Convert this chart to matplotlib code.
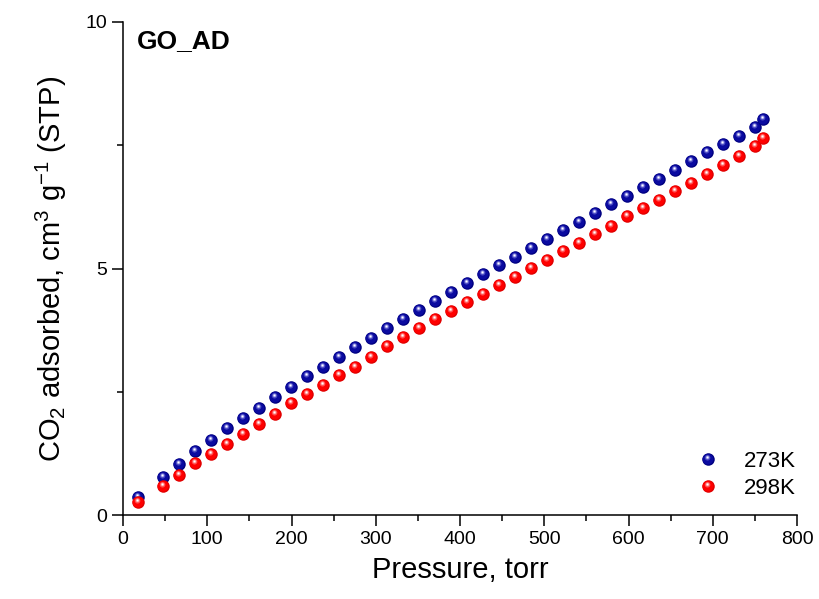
import numpy as np
import matplotlib
matplotlib.use('Agg')
import matplotlib.pyplot as plt
from matplotlib.path import Path
from matplotlib.lines import Line2D
from matplotlib.legend_handler import HandlerTuple
from matplotlib.ticker import MultipleLocator

plt.rcParams['font.family'] = ['Liberation Sans', 'DejaVu Sans']
plt.rcParams['mathtext.fontset'] = 'custom'
plt.rcParams['mathtext.rm'] = 'Liberation Sans'
plt.rcParams['mathtext.it'] = 'Liberation Sans:italic'

# pressure points (torr), same for both isotherms
pressure = [18, 47, 66, 85, 104, 123, 142, 161, 180, 199,
            218, 237, 256, 275, 294, 313, 332, 351, 370, 389,
            408, 427, 446, 465, 484, 503, 522, 541, 560, 579,
            598, 617, 636, 655, 674, 693, 712, 731, 750, 760]

# CO2 uptake, cm3/g STP
uptake_273 = [0.36, 0.78, 1.04, 1.29, 1.53, 1.76, 1.97, 2.18, 2.39, 2.60,
              2.81, 3.00, 3.20, 3.41, 3.60, 3.79, 3.98, 4.16, 4.34, 4.53,
              4.71, 4.89, 5.07, 5.24, 5.42, 5.60, 5.78, 5.95, 6.12, 6.30,
              6.47, 6.65, 6.82, 7.00, 7.18, 7.36, 7.53, 7.69, 7.86, 8.03]
uptake_298 = [0.26, 0.59, 0.82, 1.05, 1.24, 1.45, 1.65, 1.84, 2.04, 2.28,
              2.46, 2.64, 2.83, 3.01, 3.21, 3.42, 3.62, 3.80, 3.97, 4.14,
              4.33, 4.48, 4.66, 4.83, 5.01, 5.18, 5.36, 5.52, 5.70, 5.87,
              6.07, 6.22, 6.39, 6.57, 6.73, 6.92, 7.10, 7.28, 7.48, 7.64]

labels = ['273K', '298K']


def spot(cx, cy, r):
    # circle marker offset from the marker centre; the two dummy
    # movetos pin the marker scale so unit 1 == base marker radius
    c = Path.circle((cx, cy), r)
    verts = np.vstack([[[-1, -1], [1, 1]], c.vertices])
    codes = np.concatenate([[Path.MOVETO, Path.MOVETO], c.codes])
    return Path(verts, codes)


MS = 9
# (marker, colour) layers that fake a shaded sphere
layers_blue = [('o', '#000080'),
               (spot(-0.08, 0.05, 0.85), '#0a0aa0'),
               (spot(-0.15, 0.28, 0.45), '#4848c0'),
               (spot(-0.15, 0.32, 0.27), '#a8a8ec'),
               (spot(-0.15, 0.33, 0.13), '#ffffff')]
layers_red = [('o', '#e00000'),
              (spot(-0.08, 0.05, 0.85), '#ff0000'),
              (spot(-0.15, 0.28, 0.45), '#ff5050'),
              (spot(-0.15, 0.32, 0.27), '#ffb0b0'),
              (spot(-0.15, 0.33, 0.13), '#ffffff')]


def sphere_plot(ax, x, y, layers):
    handles = []
    for m, c in layers:
        ax.plot(x, y, linestyle='none', marker=m, markersize=MS,
                markerfacecolor=c, markeredgewidth=0, clip_on=False)
        handles.append(Line2D([], [], linestyle='none', marker=m, markersize=MS,
                              markerfacecolor=c, markeredgewidth=0))
    return tuple(handles)


fig = plt.figure(figsize=(8.2, 5.99), dpi=100)
ax = fig.add_axes([0.15, 0.1402, 0.822, 0.8231])

h1 = sphere_plot(ax, pressure, uptake_273, layers_blue)
h2 = sphere_plot(ax, pressure, uptake_298, layers_red)

ax.set_xlim(0, 800)
ax.set_ylim(0, 10)
ax.xaxis.set_major_locator(MultipleLocator(100))
ax.xaxis.set_minor_locator(MultipleLocator(50))
ax.yaxis.set_major_locator(MultipleLocator(5))
ax.yaxis.set_minor_locator(MultipleLocator(2.5))

for s in ['top', 'right']:
    ax.spines[s].set_visible(False)
for s in ['left', 'bottom']:
    ax.spines[s].set_linewidth(1.1)
ax.tick_params(which='major', direction='out', length=8, width=1.1, labelsize=14)
ax.tick_params(which='minor', direction='out', length=4, width=1.1)

ax.set_xlabel('Pressure, torr', fontsize=21, labelpad=6)
ax.set_ylabel(r'CO$_2$ adsorbed, cm$^3$ g$^{-1}$ (STP)', fontsize=21, labelpad=12)

ax.text(0.02, 0.985, 'GO_AD', transform=ax.transAxes, fontsize=19,
        fontweight='bold', va='top', ha='left')

ax.legend([h1, h2], labels, handler_map={tuple: HandlerTuple(ndivide=1, pad=0)},
          loc='lower right', bbox_to_anchor=(1.018, 0.005), frameon=False,
          fontsize=16, handlelength=1.2, handletextpad=1.0, labelspacing=0.3,
          borderaxespad=0.2)

fig.savefig('out.png', dpi=100)
